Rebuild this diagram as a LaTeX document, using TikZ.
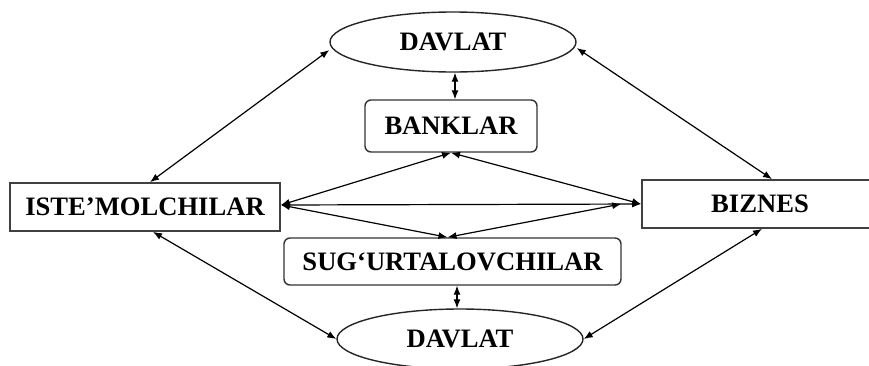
\documentclass[tikz,border=0pt]{standalone}
\usepackage{fontspec}
\setmainfont{Liberation Serif}
\usetikzlibrary{arrows.meta,shapes.geometric}
\begin{document}
\begin{tikzpicture}[x=1pt,y=-1pt,
  lbl/.style={font=\fontsize{26.6}{30}\selectfont\bfseries, text=black, inner sep=0pt},
  sqbox/.style={lbl, draw=black!75, line width=1.7pt, rectangle},
  rbox/.style={lbl, draw=black!80, line width=1.4pt, rectangle, rounded corners=6pt},
  ell/.style={lbl, draw=black!85, line width=1.4pt, ellipse},
  arr/.style={line width=1.2pt, draw=black, {Latex[length=9pt,width=7pt]}-{Latex[length=9pt,width=7pt]}}
]
\clip (0,0) rectangle (869,365);
\fill[white] (0,0) rectangle (869,365);

\node[ell, minimum width=246pt, minimum height=60pt] (dtop) at (453,42) {DAVLAT};
\node[rbox, minimum width=172pt, minimum height=52pt] (bank) at (451,126) {BANKLAR};
\node[sqbox, minimum width=270pt, minimum height=48pt] (iste) at (145,207) {ISTE’MOLCHILAR};
\node[sqbox, minimum width=236pt, minimum height=48pt] (biz) at (760,204) {BIZNES};
\node[rbox, minimum width=337pt, minimum height=47pt] (sug) at (452.5,261.5) {SUG‘URTALOVCHILAR};
\node[ell, minimum width=246pt, minimum height=60pt] (dbot) at (460,339) {DAVLAT};

% outer connectors
\draw[arr] ([xshift=5pt]iste.north) -- ([yshift=-8pt]dtop.west);
\draw[arr] ([yshift=-6pt]dtop.east) -- ([xshift=12pt]biz.north);
\draw[arr] ([xshift=8pt]iste.south) -- (dbot.west);
\draw[arr] (dbot.east) -- ([xshift=2pt]biz.south);

% short vertical connectors
\draw[arr] ([xshift=2pt]dtop.south) -- ([xshift=2pt]dtop.south |- bank.north);
\draw[arr] ([xshift=-3pt]dbot.north |- sug.south) -- ([xshift=-3pt]dbot.north);

% inner connectors
\draw[arr] ([yshift=2pt]iste.east) -- (bank.south);
\draw[arr] (bank.south) -- (biz.west);
\draw[arr] ([yshift=2pt]iste.east) -- (biz.west);
\draw[arr] ([yshift=2pt]iste.east) -- ([xshift=-5pt]sug.north);
\draw[arr] ([xshift=-5pt]sug.north) -- ([xshift=-20pt]biz.west);
\end{tikzpicture}
\end{document}
